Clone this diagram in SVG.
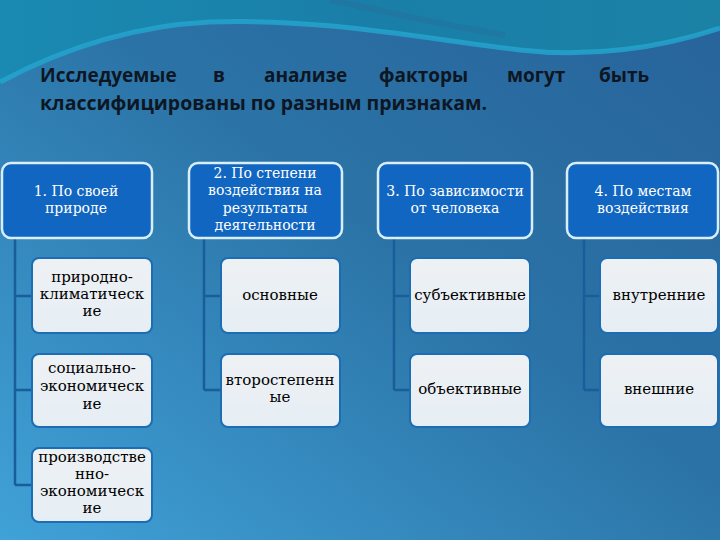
<svg xmlns="http://www.w3.org/2000/svg" width="720" height="540" viewBox="0 0 720 540">
<defs>
<linearGradient id="bg" x1="1" y1="0" x2="0" y2="1">
<stop offset="0" stop-color="#27639a"/>
<stop offset="0.45" stop-color="#2b73a6"/>
<stop offset="1" stop-color="#40a2d8"/>
</linearGradient>
<linearGradient id="top" x1="0" y1="0" x2="1" y2="0">
<stop offset="0" stop-color="#1a8ab2"/>
<stop offset="0.5" stop-color="#1a7fa8"/>
<stop offset="1" stop-color="#1b82a6"/>
</linearGradient>
<linearGradient id="child" x1="0" y1="0" x2="0" y2="1">
<stop offset="0" stop-color="#eef1f4"/>
<stop offset="1" stop-color="#e6eef4"/>
</linearGradient>
<style>
.hdr{fill:#1166c2;stroke:#d9eef7;stroke-width:2.5}
.chd{fill:url(#child);stroke:#1c6db3;stroke-width:2}
.ht{font-family:"DejaVu Serif","Liberation Serif",serif;font-size:14px;fill:#ffffff;text-anchor:middle}
.ct{font-family:"DejaVu Serif","Liberation Serif",serif;font-size:15px;fill:#000000;text-anchor:middle}
.ttl{font-family:"Open Sans","Liberation Sans",sans-serif;font-size:19px;font-weight:bold;fill:#0d1622}
.ln{stroke:#1a5d9b;stroke-width:2.5;fill:none}
</style>
</defs>
<rect width="720" height="540" fill="url(#bg)"/>
<path d="M0,0 H720 V28 C660,48 590,58 520,50 C420,38 320,18 210,22 C130,26 60,50 0,82 Z" fill="url(#top)"/>
<path d="M0,82 C60,50 130,26 210,22 C320,18 420,38 520,50 C590,58 660,48 720,28" fill="none" stroke="#24a6d0" stroke-width="5" opacity="0.8"/>
<path d="M330,0 C390,12 440,25 505,35" fill="none" stroke="#2a6896" stroke-width="6" opacity="0.3"/>

<g id="title">
<text class="ttl" x="40" y="82">Исследуемые</text>
<text class="ttl" x="213" y="82">в</text>
<text class="ttl" x="264" y="82">анализе</text>
<text class="ttl" x="379" y="82">факторы</text>
<text class="ttl" x="507" y="82">могут</text>
<text class="ttl" x="599" y="82">быть</text>
<text class="ttl" x="40" y="110" textLength="447" lengthAdjust="spacingAndGlyphs">классифицированы по разным признакам.</text>
</g>

<g id="connectors">
<path class="ln" d="M15,238 V485 M15,296 H32 M15,390 H32 M15,485 H32"/>
<path class="ln" d="M204,238 V390 M204,296 H221 M204,390 H221"/>
<path class="ln" d="M394,238 V390 M394,296 H410 M394,390 H410"/>
<path class="ln" d="M584,238 V390 M584,296 H600 M584,390 H600"/>
</g>

<g id="h1"><rect class="hdr" x="2" y="163" width="150" height="75" rx="9"/>
<text class="ht" x="76" y="196">1. По своей</text><text class="ht" x="76" y="213">природе</text></g>
<g id="h2"><rect class="hdr" x="189" y="163" width="153" height="75" rx="9"/>
<text class="ht" x="265" y="178">2. По степени</text><text class="ht" x="265" y="195">воздействия на</text><text class="ht" x="265" y="213">результаты</text><text class="ht" x="265" y="230">деятельности</text></g>
<g id="h3"><rect class="hdr" x="378" y="163" width="154" height="75" rx="9"/>
<text class="ht" x="455" y="196">3. По зависимости</text><text class="ht" x="455" y="213">от человека</text></g>
<g id="h4"><rect class="hdr" x="567" y="163" width="151" height="75" rx="9"/>
<text class="ht" x="643" y="196">4. По местам</text><text class="ht" x="643" y="213">воздействия</text></g>

<g id="c11"><rect class="chd" x="32" y="258" width="120" height="75" rx="7"/>
<text class="ct" x="92" y="282">природно-</text><text class="ct" x="92" y="299">климатическ</text><text class="ct" x="92" y="316">ие</text></g>
<g id="c12"><rect class="chd" x="32" y="354" width="120" height="73" rx="7"/>
<text class="ct" x="92" y="373">социально-</text><text class="ct" x="92" y="391">экономическ</text><text class="ct" x="92" y="409">ие</text></g>
<g id="c13"><rect class="chd" x="32" y="448" width="120" height="74" rx="7"/>
<text class="ct" x="92" y="462">производстве</text><text class="ct" x="92" y="479">нно-</text><text class="ct" x="92" y="496">экономическ</text><text class="ct" x="92" y="513">ие</text></g>
<g id="c21"><rect class="chd" x="221" y="258" width="119" height="75" rx="7"/>
<text class="ct" x="280" y="300">основные</text></g>
<g id="c22"><rect class="chd" x="221" y="354" width="119" height="73" rx="7"/>
<text class="ct" x="280" y="385">второстепенн</text><text class="ct" x="280" y="402">ые</text></g>
<g id="c31"><rect class="chd" x="410" y="258" width="120" height="75" rx="7"/>
<text class="ct" x="470" y="300">субъективные</text></g>
<g id="c32"><rect class="chd" x="410" y="354" width="120" height="73" rx="7"/>
<text class="ct" x="470" y="394">объективные</text></g>
<g id="c41"><rect class="chd" x="600" y="258" width="118" height="75" rx="7"/>
<text class="ct" x="659" y="300">внутренние</text></g>
<g id="c42"><rect class="chd" x="600" y="354" width="118" height="73" rx="7"/>
<text class="ct" x="659" y="394">внешние</text></g>
</svg>
